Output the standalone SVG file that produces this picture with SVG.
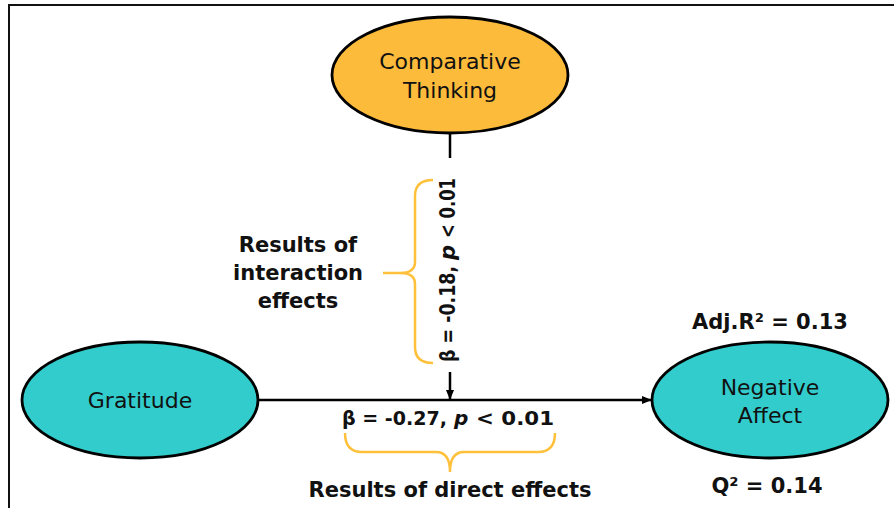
<svg xmlns="http://www.w3.org/2000/svg" width="894" height="508" viewBox="0 0 894 508">
<style>
.node{stroke:#000;stroke-width:2.8}
.teal{fill:#33CCCC}
.orange{fill:#FDBB3C}
.lbl{font-family:"DejaVu Sans","Liberation Sans",sans-serif;font-size:22px;fill:#111;text-anchor:middle}
.b{font-family:"DejaVu Sans","Liberation Sans",sans-serif;font-size:21px;font-weight:bold;fill:#111;text-anchor:middle}
.s{text-anchor:start}
.e{text-anchor:end}
.i{font-style:italic}
.edge{stroke:#000;stroke-width:2.5;fill:none}
.brace{stroke:#FFC13B;stroke-width:2.5;fill:none}
</style>
<defs>
<marker id="ah" markerWidth="10" markerHeight="10" refX="9" refY="5" orient="auto" markerUnits="userSpaceOnUse">
<path d="M0,1 L10,5 L0,9 Z" fill="#000"/>
</marker>
</defs>
<rect x="9" y="5" width="900" height="520" fill="#fff" stroke="#111" stroke-width="2"/>
<g id="connectors">
<line class="edge" x1="450" y1="133" x2="450" y2="158"/>
<line class="edge" x1="450" y1="372" x2="450" y2="399" marker-end="url(#ah)"/>
<line class="edge" x1="258" y1="400" x2="651" y2="400" marker-end="url(#ah)"/>
</g>
<g id="comparative-thinking">
<ellipse class="node orange" cx="450" cy="75" rx="118" ry="58"/>
<text class="lbl" x="450" y="69">Comparative</text>
<text class="lbl" x="450" y="98">Thinking</text>
</g>
<g id="gratitude">
<ellipse class="node teal" cx="140" cy="400" rx="118" ry="58"/>
<text class="lbl" x="140" y="408">Gratitude</text>
</g>
<g id="negative-affect">
<ellipse class="node teal" cx="770" cy="400" rx="118" ry="58"/>
<text class="lbl" x="770" y="395">Negative</text>
<text class="lbl" x="770" y="423">Affect</text>
<text class="b" x="770" y="329">Adj.R² = 0.13</text>
<text class="b" x="767" y="493">Q² = 0.14</text>
</g>
<g id="interaction-label">
<path class="brace" d="M433,180 Q415,180 415,196 V262 Q415,273 400,273 H383 M400,273 Q415,273 415,284 V347 Q415,363 433,363"/>
<g transform="translate(455,270) rotate(-90)">
<text class="b e" x="4" y="0" textLength="96" lengthAdjust="spacingAndGlyphs">β = -0.18,</text>
<text class="b s i" x="10" y="0">p</text>
<text class="b e" x="92" y="0" textLength="60" lengthAdjust="spacingAndGlyphs">&lt; 0.01</text>
</g>
<text class="b" x="298" y="252">Results of</text>
<text class="b" x="298" y="280">interaction</text>
<text class="b" x="298" y="308">effects</text>
</g>
<g id="direct-label">
<text class="b e" x="447" y="425" style="font-size:20px" textLength="105" lengthAdjust="spacingAndGlyphs">β = -0.27,</text>
<text class="b s i" x="454" y="425" style="font-size:20px">p</text>
<text class="b e" x="554" y="425" style="font-size:20px" textLength="78" lengthAdjust="spacingAndGlyphs">&lt; 0.01</text>
<path class="brace" d="M345,433 Q345,452 362,452 H436 Q450,452 450,472 Q450,452 464,452 H538 Q555,452 555,433"/>
<text class="b" x="450" y="497">Results of direct effects</text>
</g>
</svg>
